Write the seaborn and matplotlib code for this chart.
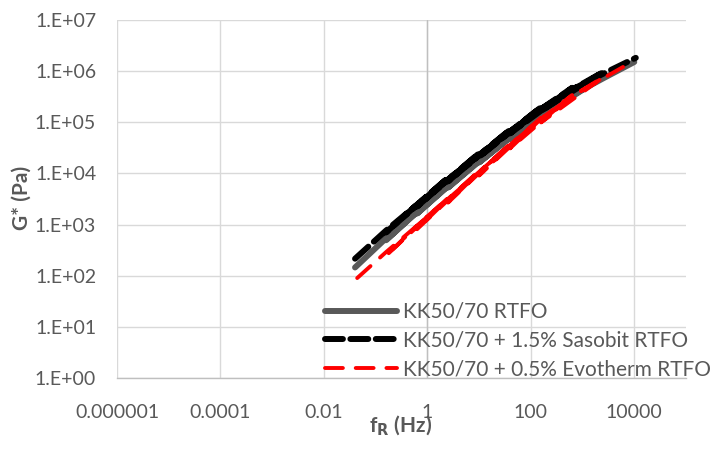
import matplotlib
matplotlib.use("Agg")
import matplotlib.pyplot as plt
import seaborn as sns
import pandas as pd

# Master curves of complex shear modulus G* against reduced frequency f_R.
# Each binder is stored as consecutive, overlapping isotherm segments
# (four points per segment), in the order they were shifted.
freq_base = [0.04, 0.158, 0.631, 2.51, 0.158, 0.631, 2.51, 10,
             0.631, 2.51, 10, 39.8, 2.51, 10, 39.8, 158,
             10, 39.8, 158, 631, 39.8, 158, 631, 2510,
             158, 631, 2510, 10000]
g_base = [145, 537, 1780, 6200, 494, 1780, 5750, 19200,
          1640, 5750, 17800, 55400, 5290, 17800, 51300, 152000,
          16400, 51300, 141000, 366000, 47200, 141000, 339000, 782000,
          130000, 339000, 724000, 1510000]

freq_sasobit = [0.04, 0.158, 0.631, 2.51, 0.158, 0.631, 2.51, 10,
                0.631, 2.51, 10, 39.8, 2.51, 10, 39.8, 158,
                10, 39.8, 158, 631, 39.8, 158, 631, 2510,
                158, 631, 2510, 10700]
g_sasobit = [215, 759, 2450, 8200, 700, 2450, 7590, 24700,
             2250, 7590, 22900, 71400, 7000, 22900, 66100, 197000,
             21100, 66100, 182000, 472000, 60800, 182000, 437000, 962000,
             167000, 437000, 891000, 1820000]

freq_evotherm = [0.044, 0.158, 0.631, 2.51, 0.158, 0.631, 2.51, 10,
                 0.631, 2.51, 10, 39.8, 2.51, 10, 39.8, 158,
                 10, 39.8, 158, 631, 39.8, 158, 631, 2510,
                 158, 631, 2510, 7080]
g_evotherm = [90, 288, 955, 3320, 245, 955, 3160, 11200,
              810, 3160, 10700, 38100, 2690, 10700, 36300, 123000,
              9100, 36300, 117000, 340000, 30900, 117000, 324000, 760000,
              99500, 324000, 724000, 1320000]

labels = ["KK50/70 RTFO",
          "KK50/70 + 1.5% Sasobit RTFO",
          "KK50/70 + 0.5% Evotherm RTFO"]
x_ticks = [1e-6, 1e-4, 1e-2, 1, 100, 10000]
x_tick_labels = ["0.000001", "0.0001", "0.01", "1", "100", "10000"]
y_ticks = [1e0, 1e1, 1e2, 1e3, 1e4, 1e5, 1e6, 1e7]
y_tick_labels = ["1.E+00", "1.E+01", "1.E+02", "1.E+03", "1.E+04", "1.E+05", "1.E+06", "1.E+07"]

sns.set_style("white")
plt.rcParams["font.family"] = ["Lato", "DejaVu Sans"]

text_grey = "#595959"
grid_grey = "#d9d9d9"
axis_grey = "#bfbfbf"

fig = plt.figure(figsize=(7.15, 4.49), dpi=100)
ax = fig.add_axes([117 / 715, 1 - 378 / 449, (686 - 117) / 715, (378 - 20) / 449])

series = [
    (freq_base, g_base, labels[0], "#595959", None, 4.3, 2),
    (freq_sasobit, g_sasobit, labels[1], "black", (3.0, 1.25), 4.3, 3),
    (freq_evotherm, g_evotherm, labels[2], "#ff0000", (4.6, 3.3), 2.8, 4),
]
for f, g, lab, col, dash, lw, z in series:
    df = pd.DataFrame({"f": f, "G": g})
    sns.lineplot(data=df, x="f", y="G", ax=ax, sort=False, estimator=None,
                 color=col, lw=lw, label=lab, zorder=z)
    line = ax.get_lines()[-1]
    if dash is not None:
        line.set_dashes(dash)
    line.set_solid_capstyle("round")
    line.set_dash_capstyle("round")
    line.set_solid_joinstyle("round")

ax.set_xscale("log")
ax.set_yscale("log")
ax.set_xlim(1e-6, 1e5)
ax.set_ylim(1e0, 1e7)
ax.set_xticks(x_ticks)
ax.set_xticklabels(x_tick_labels)
ax.set_yticks(y_ticks)
ax.set_yticklabels(y_tick_labels)
ax.minorticks_off()
ax.tick_params(axis="x", length=0, pad=19, labelsize=14, labelcolor=text_grey)
ax.tick_params(axis="y", length=0, pad=15, labelsize=14, labelcolor=text_grey)

ax.grid(True, color=grid_grey, lw=1.0)
ax.set_axisbelow(True)
for side in ["top", "right", "left"]:
    ax.spines[side].set_visible(False)
ax.spines["bottom"].set_color(axis_grey)
ax.spines["bottom"].set_linewidth(1.0)
# value axis crosses the frequency axis at f = 1
ax.axvline(1, color=axis_grey, lw=1.0, zorder=1)

ax.set_xlabel("")
ax.set_ylabel("")
fig.text(401 / 715, 1 - 426 / 449, r"f$_\mathbf{R}$ (Hz)", ha="center", va="center",
         fontsize=15, fontweight="bold", color=text_grey)
fig.text(22 / 715, 1 - 198 / 449, "G* (Pa)", ha="center", va="center", rotation=90,
         fontsize=15, fontweight="bold", color=text_grey)

leg = ax.legend(loc="upper left", bbox_to_anchor=(325 / 715, 1 - 302 / 449),
                bbox_transform=fig.transFigure, frameon=False, fontsize=15,
                handlelength=3.45, handletextpad=0.3, labelspacing=0.42,
                borderaxespad=0, borderpad=0)
for t in leg.get_texts():
    t.set_color(text_grey)
for h in leg.get_lines():
    h.set_solid_capstyle("round")
    h.set_dash_capstyle("round")

fig.savefig("out.png", dpi=100)
